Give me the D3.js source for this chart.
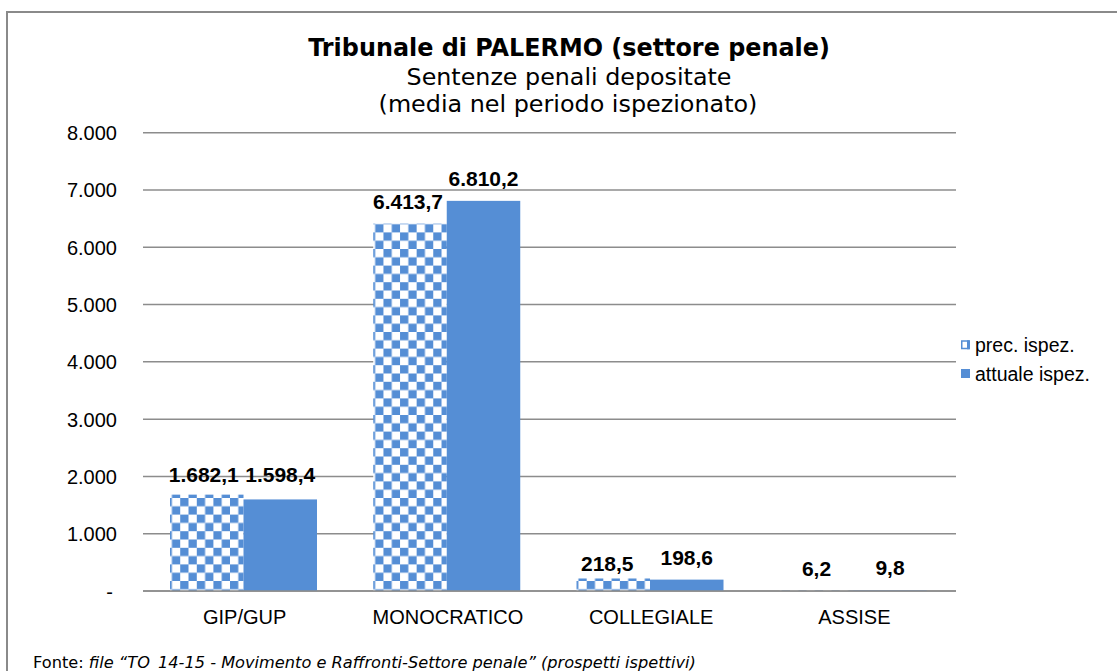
<!DOCTYPE html>
<html><head><meta charset="utf-8">
<script src="https://cdn.jsdelivr.net/npm/d3@7"></script>
<style>html,body{margin:0;padding:0;background:#fff;overflow:hidden}</style>
</head><body>
<svg id="chart" width="1117" height="671"></svg>
<script>
const categories = ["GIP/GUP", "MONOCRATICO", "COLLEGIALE", "ASSISE"];
const seriesNames = ["prec. ispez.", "attuale ispez."];
const precValues = [1682.1, 6413.7, 218.5, 6.2];
const attualeValues = [1598.4, 6810.2, 198.6, 9.8];
const yTicks = [0, 1000, 2000, 3000, 4000, 5000, 6000, 7000, 8000];
const titleLines = ["Tribunale di PALERMO (settore penale)", "Sentenze penali depositate", "(media nel periodo ispezionato)"];
const footerPrefix = "Fonte: ";
const footerText = "file \u201cTO_14-15 - Movimento e Raffronti-Settore penale\u201d (prospetti ispettivi)";

const BLUE = "#558ED5", GRID = "#8c8c8c";
const svg = d3.select("#chart");

// pattern
const defs = svg.append("defs");
const sq = 8.3;
const pat = defs.append("pattern").attr("id", "checker").attr("patternUnits", "userSpaceOnUse")
  .attr("width", sq * 2).attr("height", sq * 2).attr("x", 170).attr("y", 0);
pat.append("rect").attr("width", sq * 2).attr("height", sq * 2).attr("fill", "#fff");
pat.append("rect").attr("width", sq).attr("height", sq).attr("fill", BLUE);
pat.append("rect").attr("x", sq).attr("y", sq).attr("width", sq).attr("height", sq).attr("fill", BLUE);

// border
svg.append("path").attr("d", "M7,671 V12 H1117").attr("fill", "none").attr("stroke", "#8a8a8a").attr("stroke-width", 2);

const x0 = d3.scaleBand().domain(categories).range([143, 956]).padding(0);
const x1 = d3.scaleBand().domain(seriesNames).range([27, 174]).padding(0);
const y = d3.scaleLinear().domain([0, 8000]).range([591, 132.7]);

// gridlines
svg.append("g").selectAll("line").data(yTicks).join("line")
  .attr("x1", 143).attr("x2", 956)
  .attr("y1", d => y(d)).attr("y2", d => y(d))
  .attr("stroke", GRID).attr("stroke-width", 1.5);

const fmtIt = d3.formatLocale({decimal: ",", thousands: ".", grouping: [3], currency: ["", ""]});
const fmtTick0 = d => d === 0 ? "-" : fmtIt.format(",")(d);
const fmtLabel = fmtIt.format(",.1f");

const yAxis = d3.axisLeft(y).tickValues(yTicks).tickSize(0).tickPadding(0).tickFormat(fmtTick0);
const gy = svg.append("g").attr("transform", "translate(117,0)").call(yAxis);
gy.select(".domain").remove();
gy.selectAll("text").attr("font-family", "Liberation Sans, Arial, sans-serif").attr("font-size", 20).attr("fill", "#000")
  .attr("dy", "0.35em").attr("x", d => d === 0 ? -4 : 0);

const xAxis = d3.axisBottom(x0).tickSize(0).tickPadding(0);
const gx = svg.append("g").attr("transform", "translate(0,610)").call(xAxis);
gx.select(".domain").remove();
gx.selectAll("text").attr("font-family", "Liberation Sans, Arial, sans-serif").attr("font-size", 20).attr("fill", "#000").attr("dy", "0.7em");

// bars
const rows = categories.map((c, i) => ({cat: c, vals: [precValues[i], attualeValues[i]]}));
const labelShift = [[2.5, -2.5], [0, 0], [8, 0], [0, 0]];
const labelShiftX = [[-3, 0], [-2, 0], [-6, 0], [0, 0]];
const groups = svg.append("g").selectAll("g").data(rows).join("g")
  .attr("transform", d => `translate(${x0(d.cat)},0)`);
groups.selectAll("rect").data(d => d.vals.map((v, j) => ({v, s: seriesNames[j], j}))).join("rect")
  .attr("x", d => x1(d.s)).attr("width", x1.bandwidth())
  .attr("y", d => y(d.v)).attr("height", d => y(0) - y(d.v))
  .attr("fill", d => d.j === 0 ? "url(#checker)" : BLUE);

svg.append("line").attr("x1", 143).attr("x2", 956).attr("y1", y(0)).attr("y2", y(0)).attr("stroke", GRID).attr("stroke-width", 1.5);

groups.each(function(d, i) {
  d3.select(this).selectAll("text.lbl").data(d.vals.map((v, j) => ({v, s: seriesNames[j], j}))).join("text")
    .attr("class", "lbl")
    .attr("x", e => x1(e.s) + x1.bandwidth() / 2 + labelShiftX[i][e.j])
    .attr("y", e => y(e.v) - 15 + labelShift[i][e.j])
    .attr("text-anchor", "middle")
    .attr("font-family", "Liberation Sans, Arial, sans-serif").attr("font-weight", "bold").attr("font-size", 21)
    .attr("fill", "#000")
    .text(e => fmtLabel(e.v));
});

// title
const tFont = "DejaVu Sans, Verdana, sans-serif";
function fitText(sel, target) {
  const w = sel.node().getComputedTextLength();
  const fs = parseFloat(sel.attr("font-size"));
  sel.attr("font-size", fs * target / w);
}
const t1 = svg.append("text").attr("x", 569).attr("y", 56).attr("text-anchor", "middle")
  .attr("font-family", tFont).attr("font-weight", "bold").attr("font-size", 20).text(titleLines[0]);
fitText(t1, 522);
const t2 = svg.append("text").attr("x", 569).attr("y", 85).attr("text-anchor", "middle")
  .attr("font-family", tFont).attr("font-size", 20).text(titleLines[1]);
fitText(t2, 325);
const t3 = svg.append("text").attr("x", 568).attr("y", 112).attr("text-anchor", "middle")
  .attr("font-family", tFont).attr("font-size", 20).text(titleLines[2]);
fitText(t3, 379);

// legend
const leg = svg.append("g").attr("transform", "translate(961,0)");
const legY = [345, 374];
seriesNames.forEach((s, j) => {
  if (j === 0) {
    leg.append("rect").attr("x", 0.75).attr("y", legY[j] - 4).attr("width", 7).attr("height", 7.5)
      .attr("fill", "#fff").attr("stroke", BLUE).attr("stroke-width", 1.5);
    leg.append("rect").attr("x", 6).attr("y", legY[j] - 4.75).attr("width", 3).attr("height", 9).attr("fill", BLUE);
  } else {
    leg.append("rect").attr("x", 0).attr("y", legY[j] - 5).attr("width", 9).attr("height", 9).attr("fill", BLUE);
  }
  leg.append("text").attr("x", 14).attr("y", legY[j]).attr("dy", "0.35em")
    .attr("font-family", "Liberation Sans, Arial, sans-serif").attr("font-size", 19.5).attr("fill", "#000").text(s);
});

// footer
const ft = svg.append("text").attr("x", 33).attr("y", 668).attr("font-family", tFont).attr("font-size", 14).attr("fill", "#000");
ft.append("tspan").text(footerPrefix);
ft.append("tspan").attr("font-style", "italic").text(footerText);
fitText(ft, 663);
</script>
</body></html>
